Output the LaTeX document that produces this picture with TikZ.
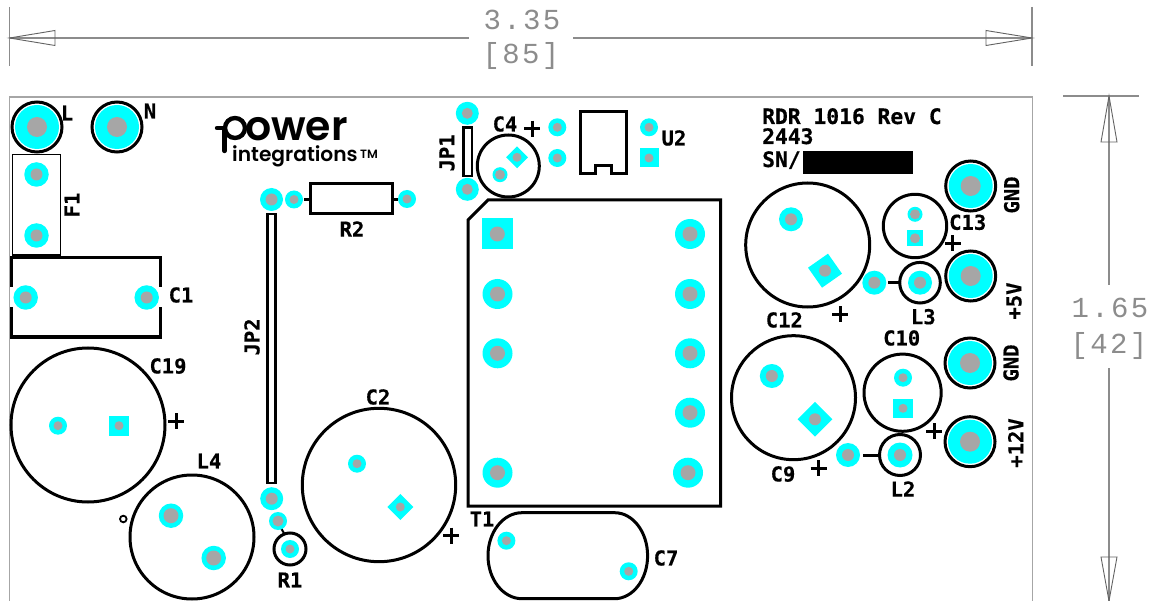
\documentclass[tikz,border=0pt]{standalone}
\usepackage{fontspec}
\usepackage{xcolor}
\newfontfamily\silkfont{DejaVu Sans Mono Bold}[FakeBold=0.5]
\newfontfamily\dimfont{Liberation Mono}[LetterSpace=8]
\newfontfamily\logofont{Poppins SemiBold}
\definecolor{padcyan}{HTML}{00FFFF}
\definecolor{holegray}{HTML}{A6A6A6}
\definecolor{dimgray}{HTML}{8C8C8C}

\begin{document}
\begin{tikzpicture}[
                  x = 1pt,
                  y = -1pt,
      padring/.style = {circle,fill=padcyan,inner sep=0pt,outer sep=0pt},
      padsq/.style = {rectangle,fill=padcyan,inner sep=0pt,outer sep=0pt},
      hole/.style = {circle,fill=holegray,inner sep=0pt,outer sep=0pt},
      silk/.style = {draw=black,line width=3pt},
      thinsilk/.style = {draw=black,line width=1.3pt},
      ref/.style = {font=\silkfont\fontsize{20.5}{20.5}\selectfont,inner sep=0pt,text=black},
      refbig/.style = {font=\silkfont\fontsize{21.3}{21.3}\selectfont,inner sep=0pt,text=black},
      dimline/.style = {draw=dimgray,line width=1.2pt},
      dimtip/.style = {draw=dimgray!70!black,line width=0.9pt},
      dimtext/.style = {font=\dimfont\fontsize{29}{29}\selectfont,inner sep=0pt,text=dimgray},
                   ]
\useasboundingbox (0,0) rectangle (1153,601);

% board edge
\draw[draw=holegray,line width=1.3pt] (9.5,601) -- (9.5,97) -- (1032.5,97) -- (1032.5,601);

% width dimension
\coordinate (wL) at (9.5,38);
\coordinate (wR) at (1032,38);
\draw[dimline] (9.5,7) -- (9.5,66);
\draw[dimline] (1032,7) -- (1032,66);
\draw[dimline] (wL) -- (469,38);
\draw[dimline] (573,38) -- (wR);
\draw[dimtip] (wL) -- (55,30.5) -- (55,45.5) -- cycle;
\draw[dimtip] (wR) -- (986,30.5) -- (986,45.5) -- cycle;
\node[dimtext] (w1) at (522,20) {3.35};
\node[dimtext] (w2) at (521,56) {[85]};

% height dimension
\coordinate (hT) at (1109,96);
\coordinate (hB) at (1109,601);
\draw[dimline] (1063,96) -- (1139,96);
\draw[dimline] (hT) -- (1109,285);
\draw[dimline] (1109,368) -- (hB);
\draw[dimtip] (hT) -- (1101,142) -- (1117,142) -- cycle;
\draw[dimtip] (hB) -- (1101,557) -- (1117,557) -- cycle;
\node[dimtext] (h1) at (1110,308) {1.65};
\node[dimtext] (h2) at (1109,346) {[42]};

% outlines
\draw[thinsilk] (12.5,154.5) rectangle (60.5,255);
\draw[silk,line width=3.5pt] (11.5,287) -- (11.5,257.5) -- (160.5,257.5) -- (160.5,287);
\draw[silk,line width=3.5pt] (11.5,307) -- (11.5,337) -- (160.5,337) -- (160.5,307);
\draw[silk] (310,184) rectangle (392,214);
\draw[silk] (304,199.5) -- (310,199.5) (392,199.5) -- (398,199.5);
\draw[silk,line width=2.5pt] (267.5,214) rectangle (275.5,483);
\draw[silk,line width=2.5pt] (463.5,127.5) rectangle (472,176);
\draw[silk] (580,174) -- (580,111.7) -- (626.7,111.7) -- (626.7,174) -- (611.7,174)
    -- (611.7,165.3) -- (595,165.3) -- (595,174) -- cycle;
\draw[silk,line join=miter] (468,506) -- (468,220) -- (488,200) -- (720.7,200) -- (720.7,506) -- cycle;
\draw[silk] (522,512.7) -- (614.6,512.7) arc[start angle=-90,end angle=90,x radius=33,y radius=43]
    -- (522,598.7) arc[start angle=90,end angle=270,x radius=34,y radius=43];
\draw[silk,line width=2pt] (281,528) -- (285,535);
\draw[silk] (888.3,282.7) -- (899.3,282.7);
\draw[silk] (863,455) -- (878.7,455);

% round bodies
\foreach \cx/\cy/\rad in {88/425/77,192/537/62,379/485/76.7,508.3/166/31,807.7/245/62,
    793.5/397.7/62,915/226/31.7,902.6/392.7/38.6,920/282.7/20.3,900/455/20.5,290/549/16,
    37/127/25,117/127/25,970.7/186/25,970.7/276/25,970/363/25,970/441.7/25} {
    \draw[silk] (\cx,\cy) circle[radius=\rad pt];
}
\draw[silk,line width=1.8pt] (123.3,519) circle[radius=3.3pt];

% plus marks
\foreach \px/\py in {176/421,451/535.7,532/128.7,840/314.3,952.7/243.3,934/431,818.7/468.3} {
    \draw[silk] (\px-8,\py) -- (\px+8,\py) (\px,\py-8) -- (\px,\py+8);
}

% round pads
\foreach \n/\px/\py/\ps/\hs in {
    padL/37/127/44/20,padN/117/127/44/20,
    padFa/36.5/174.5/24.5/12,padFb/36.5/235.5/24.5/12,
    padCa/25.7/297.5/24.5/12,padCb/146.7/297.5/24.5/12,
    padRa/271.5/199.5/23/12,padRb/294/199.5/18/9,padRc/407/199/18/9,
    padJa/271.7/498.7/23/12,padJb/278/521/18/11,padRd/290/549/18/9,
    padJc/467.3/113.3/23/11,padJd/467.3/189.3/23/11,
    padCc/58/425.7/18/9,padLa/171/515.7/24.5/15,padLb/213.7/558/24.5/15,
    padCd/357/463.7/18/9,padCe/500/174.7/15/10,
    padUa/557.3/127.3/18/9,padUb/557.3/158/18/9,padUc/649/127.3/18/9,
    padTb/497.5/294/30/15,padTc/497.5/353.3/30/15,padTd/497.5/472.7/30/15,
    padTe/690/234/30/15,padTf/690/294/30/15,padTg/690/353.3/30/15,
    padTh/690/412.7/30/15,padTi/688/472.7/30/15,
    padCf/506.4/540.7/18/9,padCg/628.7/571.3/18/9,
    padCh/791/219.3/24/12,padCi/771.8/376/24/12,
    padCj/915/214.3/15/10,padCk/903/377.7/18/9,
    padLc/874.3/282.7/24/12,padLd/920/282.7/24/12,
    padLe/848/455/24/12,padLf/900/455/25/12,
    padGa/970.7/186/44/20,padGb/970.7/276/44/20,padGc/970/363/44/20,padGd/970/441.7/44/20} {
    \node[padring,minimum size=\ps pt] (\n) at (\px,\py) {};
    \node[hole,minimum size=\hs pt] at (\n) {};
}

% square pads
\foreach \n/\px/\py/\ps/\hs/\ang in {
    sqCa/119/425.7/20/9/0,sqCb/400.3/507/18.4/9/45,sqCc/517/157.3/15.5/9/45,
    sqUa/649/158/19/9/0,sqTa/497.3/234/31/15/0,sqCd/825/270.7/24.4/12/35,
    sqCe/815/419.3/24.5/12/45,sqCf/915/238.3/16/10/0,sqCg/903/408.3/19.4/9/0} {
    \node[padsq,minimum size=\ps pt,rotate=\ang] (\n) at (\px,\py) {};
    \node[hole,minimum size=\hs pt] at (\n) {};
}

% reference designators
\node[ref] (L) at (67,113) {L};
\node[ref] (N) at (150,111) {N};
\node[ref,rotate=90] (F1) at (72,205) {F1};
\node[ref] (C1) at (181,295) {C1};
\node[ref] (R2) at (352,229) {R2};
\node[ref,rotate=90] (JP2) at (252,337) {JP2};
\node[ref] (R1) at (290,580) {R1};
\node[ref] (C19) at (168,366) {C19};
\node[ref] (L4) at (209,461) {L4};
\node[ref] (C2) at (378,397) {C2};
\node[ref,rotate=90] (JP1) at (447,153) {JP1};
\node[ref] (C4) at (505,124) {C4};
\node[ref] (U2) at (674,138) {U2};
\node[ref] (T1) at (482,519) {T1};
\node[ref] (C7) at (666,558) {C7};
\node[ref] (C12) at (784.3,320) {C12};
\node[ref] (C9) at (783,474) {C9};
\node[ref] (C13) at (967.7,222.3) {C13};
\node[ref] (L3) at (923.3,316.7) {L3};
\node[ref] (C10) at (901.7,338) {C10};
\node[ref] (L2) at (903,489) {L2};
\node[ref,rotate=90] (GNDa) at (1011.7,195) {GND};
\node[ref,rotate=90] (vFive) at (1014,301) {+5V};
\node[ref,rotate=90] (GNDb) at (1011,363) {GND};
\node[ref,rotate=90] (vTwelve) at (1015.7,443) {+12V};

% board marking
\node[refbig,anchor=base west] (rev) at (762,124) {RDR 1016 Rev C};
\node[refbig,anchor=base west] (code) at (762,144) {2443};
\node[refbig,anchor=base west] (sn) at (762,167) {SN/};
\fill[black] (802.7,150.7) rectangle (913.3,174);

% logo
\draw[black,line width=4.4pt] (235,128) circle[radius=10pt];
\draw[black,line width=4.4pt,line cap=round] (217,128) -- (224.5,128) -- (224.5,151);
\node[font=\logofont\fontsize{41}{41}\selectfont,anchor=base west,inner sep=0pt,text depth=0pt] (power) at (245,140.5) {ower};
\node[font=\logofont\fontsize{20.2}{20.2}\selectfont,anchor=base west,inner sep=0pt,text height=14pt] (integ) at (232,162) {integrations};
\node[font=\logofont\fontsize{12}{12}\selectfont,anchor=base west,inner sep=0pt] (tm) at (360,158.5) {TM};
\end{tikzpicture}
\end{document}
